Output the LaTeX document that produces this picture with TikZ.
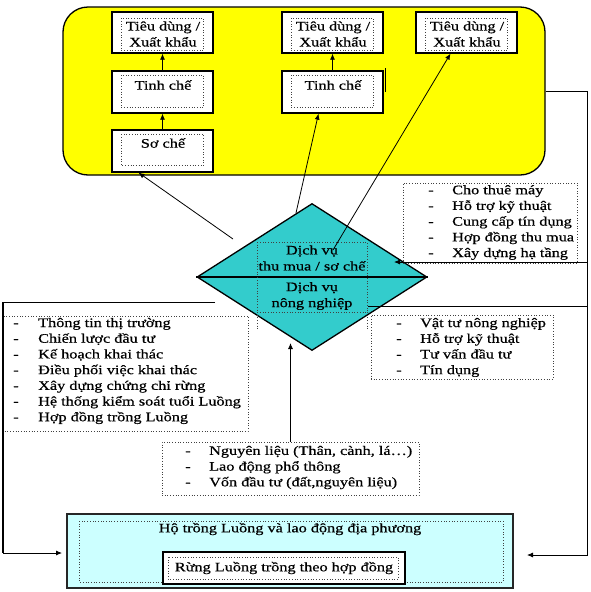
\documentclass[tikz,border=0pt]{standalone}
\usepackage{fontspec}
\setmainfont{Liberation Serif}[FakeStretch=1.25,FakeBold=0.6]
\usetikzlibrary{shapes.geometric,arrows.meta,calc}
\definecolor{yel}{HTML}{FFFF00}
\definecolor{teal2}{HTML}{33CCCC}
\definecolor{lcyan}{HTML}{CCFFFF}
\tikzset{
 box/.style={draw=black, line width=1.3pt, fill=white, inner sep=0pt},
 dotbox/.style={draw=black!75, dotted, line width=0.7pt},
 txt/.style={inner sep=0pt, font=\fontsize{13}{16}\selectfont, align=center},
 lst/.style={inner sep=0pt, font=\fontsize{13}{15.7}\selectfont, align=left, anchor=west},
 arr/.style={-{Latex[length=6pt,width=5pt]}, line width=0.8pt},
 conn/.style={line width=0.8pt},
}
\newcommand{\bul}[1]{\makebox[#1][l]{-}}
\begin{document}
\begin{tikzpicture}[x=1pt,y=-1pt]
\useasboundingbox (0,0) rectangle (591,592);
\fill[white] (0,0) rectangle (591,592);

% yellow area
\node[draw=black, line width=1.3pt, fill=yel, rounded corners=25pt,
      minimum width=482pt, minimum height=168pt, inner sep=0pt] (yel) at (304,91) {};

% column 1
\node[box, minimum width=101pt, minimum height=41pt] (t1) at (162.5,32.5) {};
\draw[dotbox] ([shift={(10pt,-7pt)}]t1.north west) rectangle ([shift={(-10pt,3pt)}]t1.south east);
\node[txt] (t1x) at (163,34) {Tiêu dùng /\\Xuất khẩu};
\node[box, minimum width=101pt, minimum height=42pt] (k1) at (162.5,92) {};
\draw[dotbox] ([shift={(10pt,-5pt)}]k1.north west) rectangle ([shift={(-10pt,6pt)}]k1.south east);
\node[txt] (k1x) at (163,85) {Tinh chế};
\node[box, minimum width=101pt, minimum height=42pt] (s1) at (162.5,151) {};
\draw[dotbox] ([shift={(10pt,-5pt)}]s1.north west) rectangle ([shift={(-10pt,7pt)}]s1.south east);
\node[txt] (s1x) at (163,143) {Sơ chế};

% column 2
\node[box, minimum width=101pt, minimum height=41pt] (t2) at (332.5,32.5) {};
\draw[dotbox] ([shift={(10pt,-7pt)}]t2.north west) rectangle ([shift={(-10pt,3pt)}]t2.south east);
\node[txt] (t2x) at (333,34) {Tiêu dùng /\\Xuất khẩu};
\node[box, minimum width=101pt, minimum height=42pt] (k2) at (332.5,92) {};
\draw[dotbox] ([shift={(10pt,-5pt)}]k2.north west) rectangle ([shift={(-10pt,6pt)}]k2.south east);
\node[txt] (k2x) at (333,85) {Tinh chế};
\draw[line width=1pt] (385,68) -- (385,92);

% column 3
\node[box, minimum width=101pt, minimum height=41pt] (t3) at (466.5,32.5) {};
\draw[dotbox] ([shift={(10pt,-7pt)}]t3.north west) rectangle ([shift={(-10pt,3pt)}]t3.south east);
\node[txt] (t3x) at (467,34) {Tiêu dùng /\\Xuất khẩu};

% arrows inside yellow
\draw[arr] (k1) -- (t1);
\draw[arr] (s1) -- (k1);
\draw[arr] (k2) -- (t2);

% diamond
\node[draw=black, line width=1.3pt, fill=teal2, diamond, inner sep=0pt,
      minimum width=230pt, minimum height=147pt] (dia) at (312,277) {};
\draw[line width=1.3pt] (dia.west) -- (dia.east);
\draw[dotbox] (257,242) rectangle (367,312);
\draw[dotbox] (257,312) -- (257,330) (367,312) -- (367,330);
\node[txt] (d1) at (312,258) {Dịch vụ\\thu mua / sơ chế};
\node[txt] (d2) at (312,296) {Dịch vụ\\nông nghiệp};

% arrows from diamond to the processing boxes
\coordinate (c1) at (233,239);
\coordinate (c2) at (296,213);
\coordinate (c3) at (333,250);
\draw[arr] (c1) -- ([xshift=-24pt]s1.south);
\draw[arr] (c2) -- ([xshift=-14pt]k2.south);
\draw[arr] (c3) -- ([xshift=-16pt]t3.south);

% right upper list
\node[dotbox, minimum width=174pt, minimum height=80pt, inner sep=0pt] (ru) at (490,223) {};
\node[lst] (rut) at (428,222.5) {\bul{24pt}Cho thuê máy\\\bul{24pt}Hỗ trợ kỹ thuật\\\bul{24pt}Cung cấp tín dụng\\\bul{24pt}Hợp đồng thu mua\\\bul{24pt}Xây dựng hạ tầng};

% right lower list
\node[dotbox, minimum width=182pt, minimum height=64pt, inner sep=0pt] (rl) at (462,347) {};
\node[lst] (rlt) at (396,347.5) {\bul{24pt}Vật tư nông nghiệp\\\bul{24pt}Hỗ trợ kỹ thuật\\\bul{24pt}Tư vấn đầu tư\\\bul{24pt}Tín dụng};

% left list
\node[dotbox, minimum width=246pt, minimum height=115pt, inner sep=0pt] (ll) at (125,373.5) {};
\node[lst] (llt) at (13,371) {\bul{25pt}Thông tin thị trường\\\bul{25pt}Chiến lược đầu tư\\\bul{25pt}Kế hoạch khai thác\\\bul{25pt}Điều phối việc khai thác\\\bul{25pt}Xây dựng chứng chỉ rừng\\\bul{25pt}Hệ thống kiểm soát tuổi Luồng\\\bul{25pt}Hợp đồng trồng Luồng};

% bottom middle list
\node[dotbox, minimum width=257pt, minimum height=53pt, inner sep=0pt] (bm) at (290.5,468.5) {};
\node[lst] (bmt) at (185,467.5) {\bul{24pt}Nguyên liệu (Thân, cành, lá…)\\\bul{24pt}Lao động phổ thông\\\bul{24pt}Vốn đầu tư (đất,nguyên liệu)};

% bottom box
\node[draw=black!85, line width=1.3pt, fill=lcyan, minimum width=446pt, minimum height=74pt, inner sep=0pt] (bot) at (290,551) {};
\draw[dotbox] (79,521) rectangle (503,582);
\node[txt] (hx) at (290,529) {Hộ trồng Luồng và lao động địa phương};
\node[box, minimum width=242pt, minimum height=32pt] (rung) at (284,568) {};
\draw[dotbox] (168,557) rectangle (398,579);
\node[txt] (rx) at (284,568) {Rừng Luồng trồng theo hợp đồng};

% right loop
\coordinate (rr) at (587,555);
\coordinate (re) at (527,555);
\draw[arr] (yel.east) -| (rr) -- (re);
\coordinate (rh) at (587,262);
\coordinate (rd) at (394,262);
\draw[arr] (rh) -- (rd);
\coordinate (ra) at (368,306);
\coordinate (rb) at (587,306);
\draw[conn] (ra) -- (rb);

% left loop
\coordinate (la) at (215,302);
\coordinate (lb) at (3,302);
\coordinate (lc) at (3,553);
\coordinate (ld) at (62,553);
\draw[conn] (la) -- (lb);
\draw[arr] (lb) -- (lc) -- (ld);
\draw[line width=1.6pt] (lb) -- (lc);

% upward arrow from inputs
\coordinate (ua) at (290.5,343);
\draw[arr] (bm.north) -- (ua);
\end{tikzpicture}
\end{document}
